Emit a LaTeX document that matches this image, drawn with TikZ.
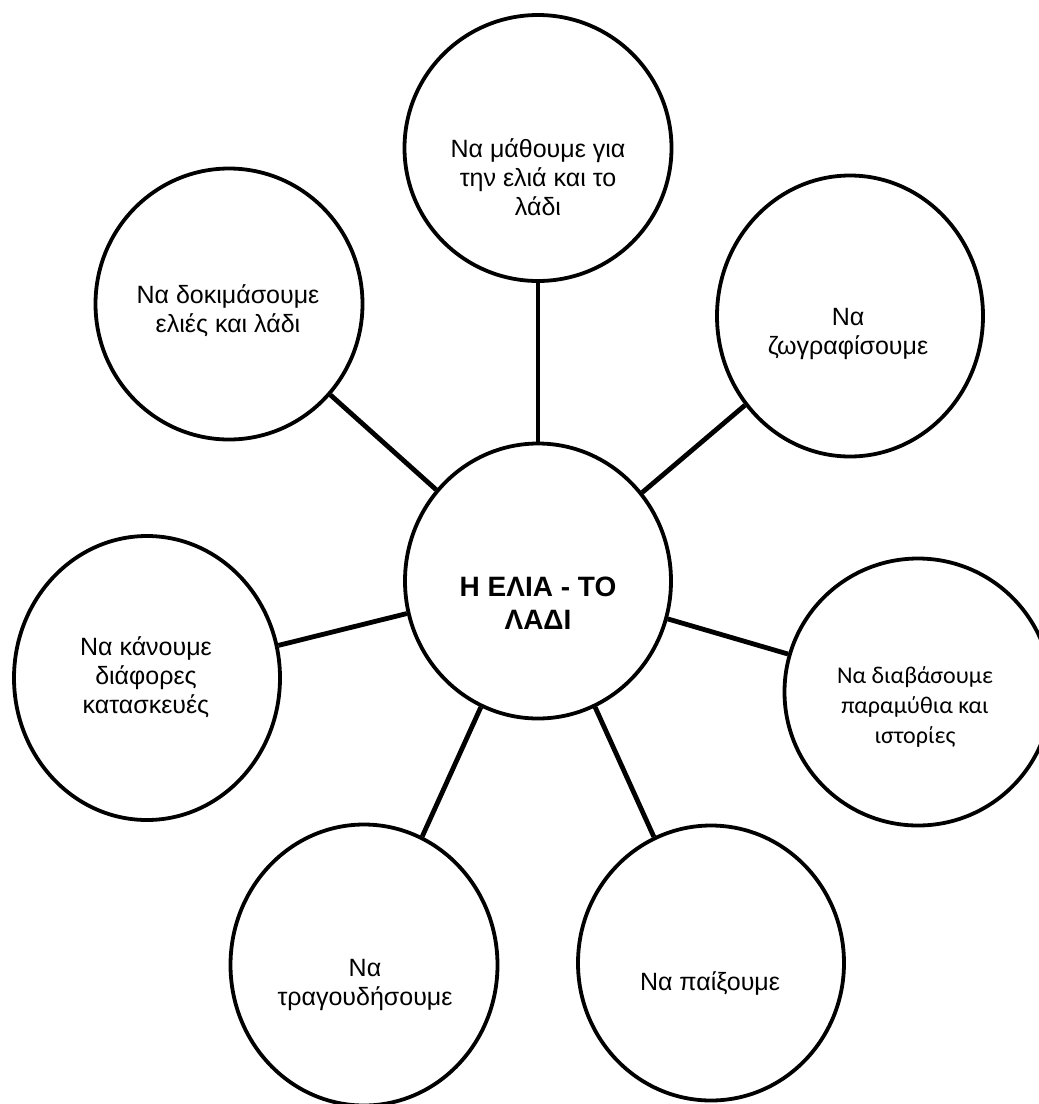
\documentclass[tikz,border=0pt]{standalone}
\usepackage{fontspec}
\setmainfont{Liberation Sans}
\newfontfamily\carl{Carlito}
\usetikzlibrary{shapes.geometric}
\begin{document}
\begin{tikzpicture}[x=0.5pt,y=-0.5pt,
  bub/.style={ellipse,draw,line width=1.9pt,inner sep=0pt},
  lnk/.style={line width=2.4pt},
  txt/.style={align=center,font=\fontsize{12.5}{14.5}\selectfont,inner sep=0pt}]
\clip (0,0) rectangle (1039,1104);
\fill[white] (0,0) rectangle (1039,1104);
% circles
\node[bub,minimum width=133pt,minimum height=137.5pt] (c)  at (538,581) {};
\node[bub,minimum width=133.5pt,minimum height=133pt] (t)  at (538,148) {};
\node[bub,minimum width=133.5pt,minimum height=135.5pt] (tl) at (229,304) {};
\node[bub,minimum width=133pt,minimum height=140.5pt] (tr) at (850,316) {};
\node[bub,minimum width=133pt,minimum height=142pt] (l)  at (147,678) {};
\node[bub,minimum width=133.5pt,minimum height=133.5pt] (r)  at (918,692) {};
\node[bub,minimum width=133.5pt,minimum height=140.5pt] (bl) at (364,965) {};
\node[bub,minimum width=133pt,minimum height=137.5pt] (br) at (711,963) {};
% connectors
\draw[lnk] (c) -- (t);
\draw[lnk] (c) -- (tl);
\draw[lnk] (c) -- (tr);
\draw[lnk] (c) -- (l);
\draw[lnk] (c) -- (r);
\draw[lnk] (c) -- (bl);
\draw[lnk] (c) -- (br);
% texts
\node[txt,font=\fontsize{14}{16.5}\selectfont\bfseries] (ct) at (538,603) {Η ΕΛΙΑ - ΤΟ\\ΛΑΔΙ};
\node[txt] (tt)  at (538,177) {Να μάθουμε για\\την ελιά και το\\λάδι};
\node[txt] (tlt) at (228,311) {Να δοκιμάσουμε\\ελιές και λάδι};
\node[txt] (trt) at (848,334) {Να\\ζωγραφίσουμε};
\node[txt] (lt)  at (146,677) {Να κάνουμε\\διάφορες\\κατασκευές};
\node[txt,font=\carl\fontsize{12}{15}\selectfont] (rt) at (915,707) {Να διαβάσουμε\\παραμύθια και\\ιστορίες};
\node[txt] (blt) at (365,985) {Να\\τραγουδήσουμε};
\node[txt] (brt) at (710,983) {Να παίξουμε};
\end{tikzpicture}
\end{document}
